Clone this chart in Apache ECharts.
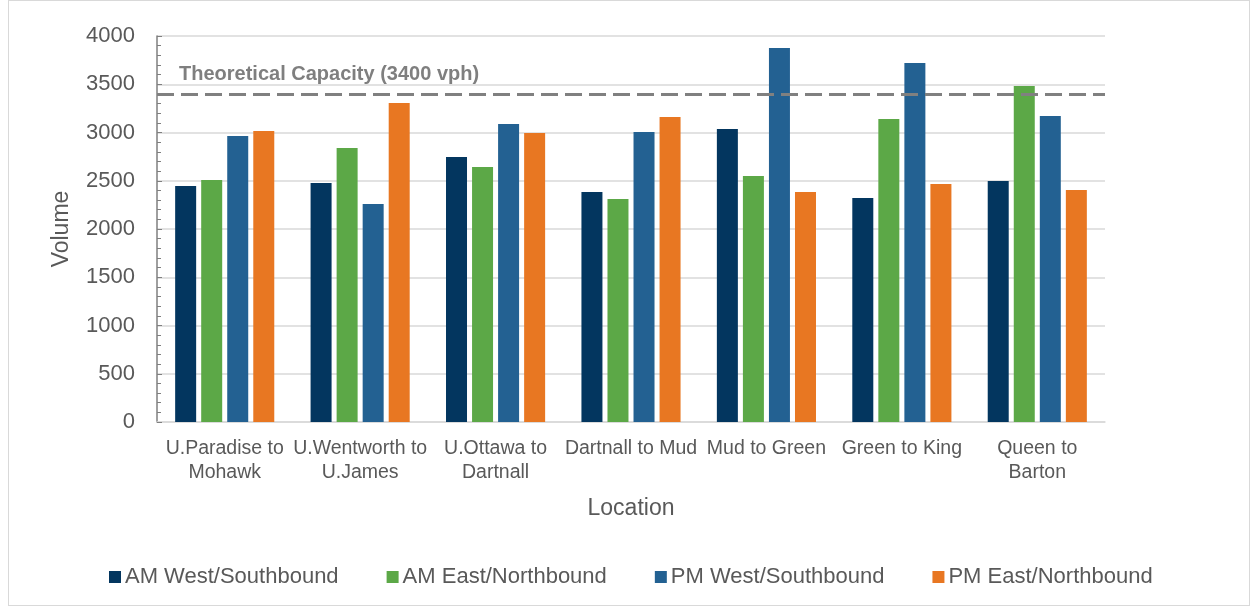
<!DOCTYPE html>
<html>
<head>
<meta charset="utf-8">
<script src="https://cdn.jsdelivr.net/npm/echarts@6/dist/echarts.min.js"></script>
<style>
html,body{margin:0;padding:0;background:#fff;}
#frame{position:absolute;left:8px;top:0;width:1242px;height:606px;border:1px solid #d9d9d9;box-sizing:border-box;}
#chart{position:absolute;left:0;top:0;width:1252px;height:608px;}
</style>
</head>
<body>
<div id="frame"></div>
<div id="chart"></div>
<script>
const categories = ["U.Paradise to\nMohawk","U.Wentworth to\nU.James","U.Ottawa to\nDartnall","Dartnall to Mud","Mud to Green","Green to King","Queen to\nBarton"];
const seriesNames = ["AM West/Southbound","AM East/Northbound","PM West/Southbound","PM East/Northbound"];
const amWest = [2446, 2477, 2746, 2383, 3036, 2321, 2497];
const amEast = [2508, 2839, 2642, 2311, 2549, 3140, 3482];
const pmWest = [2964, 2259, 3088, 3005, 3876, 3720, 3171];
const pmEast = [3016, 3306, 2995, 3161, 2383, 2466, 2404];
const capacity = 3400;
const capacityLabel = "Theoretical Capacity (3400 vph)";
const colors = ["#03365f", "#5ca847", "#236192", "#e87722"];

const chart = echarts.init(document.getElementById('chart'), null, {renderer:'canvas'});
const font = "'Liberation Sans', Arial, sans-serif";
const allData = [amWest, amEast, pmWest, pmEast];
const series = allData.map((d, i) => ({
  name: seriesNames[i],
  type: 'bar',
  data: d,
  barWidth: 21,
  barGap: '24%',
  itemStyle: {color: colors[i]},
  z: 2
}));
series[0].markLine = {
  silent: true,
  symbol: ['none','none'],
  lineStyle: {color: '#808080', type: [17, 7], width: 3},
  label: {
    show: true, position: 'insideStartTop', formatter: capacityLabel,
    color: '#7f7f7f', fontWeight: 'bold', fontSize: 20, fontFamily: font,
    distance: [22, 9]
  },
  data: [{yAxis: capacity}],
  z: 5
};
chart.setOption({
  animation: false,
  textStyle: {fontFamily: font},
  color: colors,
  grid: {left: 157, right: 147, top: 36, bottom: 186, containLabel: false},
  legend: {
    top: 561, left: 104,
    icon: 'rect', itemWidth: 12, itemHeight: 12, itemGap: 48,
    textStyle: {fontSize: 22, color: '#595959', fontFamily: font, padding: [0,0,0,-1]},
    data: seriesNames
  },
  xAxis: {
    type: 'category',
    data: categories,
    name: 'Location', nameLocation: 'middle', nameGap: 75,
    nameTextStyle: {fontSize: 23, color: '#595959'},
    axisLine: {lineStyle: {color: '#d9d9d9', width: 1.5}},
    axisTick: {show: false},
    axisLabel: {interval: 0, fontSize: 19.5, color: '#595959', margin: 15, lineHeight: 24}
  },
  yAxis: {
    type: 'value', min: 0, max: 4000, interval: 500,
    name: 'Volume', nameLocation: 'middle', nameGap: 84,
    nameTextStyle: {fontSize: 23, color: '#595959'},
    axisLine: {show: true, lineStyle: {color: '#7f7f7f', width: 1.5}},
    axisTick: {show: true, inside: true, length: 5, lineStyle: {color: '#7f7f7f'}},
    minorTick: {show: true, splitNumber: 5, length: 4, lineStyle: {color: '#7f7f7f'}},
    axisLabel: {fontSize: 22, color: '#595959', margin: 22, formatter: v => String(v)},
    splitLine: {lineStyle: {color: '#d9d9d9', width: 1.5}}
  },
  series: series
});
</script>
</body>
</html>
